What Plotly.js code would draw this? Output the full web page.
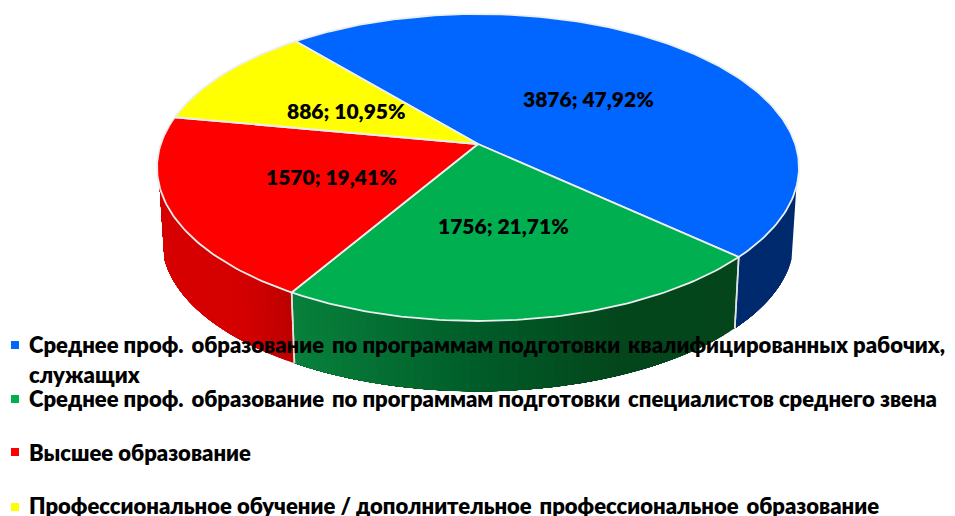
<!DOCTYPE html>
<html><head><meta charset="utf-8">
<script src="https://cdn.plot.ly/plotly-3.0.1.min.js"></script>
<style>html,body{margin:0;padding:0;background:#fff}#c{width:955px;height:516px}</style>
</head><body><div id="c"></div>
<script>
// --- data ---
const categories = [
  "Среднее проф. образование по программам подготовки квалифицированных рабочих, служащих",
  "Среднее проф. образование по программам подготовки специалистов среднего звена",
  "Высшее образование",
  "Профессиональное обучение / дополнительное профессиональное образование"
];
const values = [3876, 1756, 1570, 886];
// --- style and layout ---
const topColors = ["#0066FF", "#00B050", "#FF0000", "#FFFF00"];
const wallStops = [
  [[0, [0, 42, 110]], [955, [0, 42, 110]]],
  [[295, [8, 128, 60]], [480, [0, 92, 40]], [620, [4, 70, 28]], [955, [4, 68, 27]]],
  [[0, [222, 0, 0]], [240, [212, 0, 0]], [295, [187, 0, 0]]],
  [[0, [190, 190, 0]], [955, [190, 190, 0]]]
];
const labelCenters = [[588, 98], [503, 225], [331, 176], [346, 110]];
const legendLines = [
  {text: "Среднее проф.\u2009 образование\u2009 по программам подготовки\u2009 квалифицированных рабочих,", y: 344},
  {text: "служащих", y: 374},
  {text: "Среднее проф.\u2009 образование\u2009 по программам подготовки\u2009 специалистов среднего звена", y: 398},
  {text: "Высшее образование", y: 452},
  {text: "Профессиональное обучение / дополнительное\u2009 профессиональное\u2009 образование", y: 505}
];
const legendMarkY = [345, 399, 452, 507];
const FONT = "Lato, 'Open Sans', 'Noto Sans', sans-serif";
const cx = 478, cy = 144, R = 317.2, B = 149.9, p = 0.153, startDeg = -40;
const shrink = 0.985, depth = 73, wallFrom = 106, wallTo = 254;

const total = values.reduce((a, b) => a + b, 0);
function rim(deg, bottom) {
  const t = deg * Math.PI / 180, w = 1 + p * Math.cos(t);
  const x = cx + R * Math.sin(t) / w, y = cy - B * Math.cos(t) / w;
  return bottom ? [cx + shrink * (x - cx), cy + shrink * (y - cy) + depth] : [x, y];
}
function shade(stops, x) {
  let a = stops[0], b = stops[stops.length - 1];
  for (let i = 0; i < stops.length - 1; i++) if (x >= stops[i][0] && x <= stops[i + 1][0]) { a = stops[i]; b = stops[i + 1]; }
  const f = Math.max(0, Math.min(1, (x - a[0]) / ((b[0] - a[0]) || 1)));
  const c = a[1].map((v, k) => Math.round(v + (b[1][k] - v) * f));
  return `rgb(${c[0]},${c[1]},${c[2]})`;
}
const traces = [];
const edges = [];
let acc = startDeg;
values.forEach((v, i) => { const span = v / total * 360; edges.push([acc, acc + span]); acc += span; });
// side walls, as thin shaded strips: each strip runs on to the end of its slice and the next paints over it, so no seams show
edges.forEach((e, i) => {
  const a = Math.max(e[0], wallFrom), z = Math.min(e[1], wallTo);
  if (z <= a) return;
  const n = Math.ceil((z - a) / 1.5);
  for (let k = 0; k < n; k++) {
    const d0 = a + (z - a) * k / n, d1 = a + (z - a) * (k + 1) / n;
    const col = shade(wallStops[i], (rim(d0)[0] + rim(d1)[0]) / 2);
    const xs = [], ys = [];
    const steps = [];
    const m = Math.max(2, Math.ceil((z - d0) / 2));
    for (let q = 0; q <= m; q++) steps.push(d0 + (z - d0) * q / m);
    steps.forEach(d => { const P = rim(d); xs.push(P[0]); ys.push(P[1]); });
    steps.slice().reverse().forEach(d => { const P = rim(d, true); xs.push(P[0]); ys.push(P[1]); });
    xs.push(xs[0]); ys.push(ys[0]);
    traces.push({type: "scatter", mode: "lines", x: xs, y: ys,
      fill: "toself", fillcolor: col, line: {width: 0}, hoverinfo: "skip", showlegend: false});
  }
});
edges.forEach(e => {
  [e[0], e[1]].forEach(d => {
    if (d > wallFrom && d < wallTo) {
      const A = rim(d), C = rim(d, true);
      traces.push({type: "scatter", mode: "lines", x: [A[0], C[0]], y: [A[1], C[1]], line: {color: "#dfe3e3", width: 1.6}, hoverinfo: "skip", showlegend: false});
    }
  });
});
// top face
edges.forEach((e, i) => {
  const xs = [cx], ys = [cy];
  const n = Math.ceil((e[1] - e[0]) / 1);
  for (let k = 0; k <= n; k++) { const P = rim(e[0] + (e[1] - e[0]) * k / n); xs.push(P[0]); ys.push(P[1]); }
  xs.push(cx); ys.push(cy);
  traces.push({type: "scatter", mode: "lines", x: xs, y: ys, fill: "toself", fillcolor: topColors[i],
    line: {color: "#ecefef", width: 1.8}, name: categories[i], text: `${values[i]}`, hoverinfo: "name+text", showlegend: false});
});
// legend marks
traces.push({type: "scatter", mode: "markers", x: legendMarkY.map(() => 15), y: legendMarkY,
  marker: {symbol: "square", size: 8, color: topColors, line: {width: 0}}, hoverinfo: "skip", showlegend: false});

const annotations = [];
values.forEach((v, i) => {
  annotations.push({x: labelCenters[i][0], y: labelCenters[i][1], xref: "x", yref: "y", showarrow: false,
    xanchor: "center", yanchor: "middle",
    text: `${v}; ${(v / total * 100).toFixed(2).replace(".", ",")}%`,
    font: {family: FONT, size: 21, color: "#000", weight: 800}});
});
legendLines.forEach(l => {
  annotations.push({x: 27, y: l.y, xref: "x", yref: "y", showarrow: false, xanchor: "left", yanchor: "middle",
    text: l.text, font: {family: FONT, size: 22, color: "#000", weight: 800}});
});
Plotly.newPlot("c", traces, {
  width: 955, height: 516, margin: {l: 0, r: 0, t: 0, b: 0}, showlegend: false,
  paper_bgcolor: "#fff", plot_bgcolor: "#fff",
  xaxis: {range: [0, 955], visible: false, fixedrange: true},
  yaxis: {range: [516, 0], visible: false, fixedrange: true},
  annotations
}, {displayModeBar: false});
</script></body></html>
